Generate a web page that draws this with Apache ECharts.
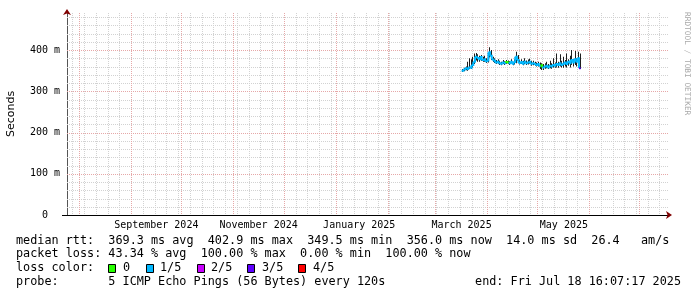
<!DOCTYPE html>
<html><head><meta charset="utf-8">
<script src="https://cdn.jsdelivr.net/npm/echarts@6/dist/echarts.min.js"></script>
<style>html,body{margin:0;padding:0;background:#fff}#c{width:697px;height:297px}</style>
</head><body><div id="c"></div>
<script>
// ---- data (values in ms) ----
const dates = [
 '2025-03-17','2025-03-18','2025-03-19','2025-03-20','2025-03-21','2025-03-22','2025-03-23','2025-03-24','2025-03-25','2025-03-26','2025-03-27','2025-03-28','2025-03-29','2025-03-30','2025-03-31',
 '2025-04-01','2025-04-02','2025-04-03','2025-04-04','2025-04-05','2025-04-06','2025-04-07','2025-04-08','2025-04-09','2025-04-10','2025-04-11','2025-04-12','2025-04-13','2025-04-14','2025-04-15',
 '2025-04-16','2025-04-17','2025-04-18','2025-04-19','2025-04-20','2025-04-21','2025-04-22','2025-04-23','2025-04-24','2025-04-25','2025-04-26','2025-04-27','2025-04-28','2025-04-29','2025-04-30',
 '2025-05-01','2025-05-02','2025-05-03','2025-05-04','2025-05-05','2025-05-06','2025-05-07','2025-05-08','2025-05-09','2025-05-10','2025-05-11','2025-05-12','2025-05-13','2025-05-14','2025-05-15',
 '2025-05-16','2025-05-17','2025-05-18','2025-05-19','2025-05-20','2025-05-21','2025-05-22','2025-05-23','2025-05-24','2025-05-25','2025-05-26'];
const median = [350,353,356,354,358,357,364,372,384,381,378,383,376,378,
 373,375,395,386,377,374,370,372,368,367,370,368,371,370,368,
 372,367,371,384,376,369,371,367,372,368,370,372,367,368,366,
 364,366,362,363,358,360,362,358,362,360,364,362,366,364,368,
 364,366,370,366,372,368,376,370,378,372,380,356];
const smokeLo = [347,349,351,350,355,354,358,366,375,372,372,374,372,372,
 369,370,382,376,371,369,366,367,364,363,366,364,367,366,364,
 368,363,365,368,368,365,366,363,366,364,365,367,362,363,362,
 360,360,354,352,352,355,356,354,356,355,358,357,358,357,360,
 358,357,360,358,362,358,364,360,364,360,364,354];
const smokeHi = [354,357,360,372,380,378,384,392,393,390,386,388,384,386,
 380,382,407,400,384,380,376,378,374,372,376,373,376,375,373,
 378,372,378,396,388,376,378,374,380,375,377,379,374,374,372,
 370,372,370,368,366,368,372,366,374,368,380,370,392,372,390,
 374,384,376,392,378,386,400,378,398,380,396,392];
const loss = [1,1,1,1,1,1,1,1,1,1,1,1,1,1,
 1,1,1,1,1,1,1,1,1,1,1,1,0,0,1,
 1,1,1,1,1,1,1,1,1,1,1,1,1,1,1,
 1,1,1,0,1,1,1,1,1,1,1,1,1,1,1,
 1,1,1,1,1,1,1,1,1,1,1,3];
const lossLabels = ['0','1/5','2/5','3/5','4/5'];
const lossColors = ['#26ff00','#00b8ff','#c800ff','#5e00ff','#ff0000'];
const yTicks = [0,100,200,300,400];
const yTickLabels = ['0  ','100 m','200 m','300 m','400 m'];
const xLabelDates = ['2024-09-16','2024-11-16','2025-01-15','2025-03-17','2025-05-17'];
const xTickLabels = ['September 2024','November 2024','January 2025','March 2025','May 2025'];
const endTime = '2025-07-18T16:07:17Z';
const statsRtt  = 'median rtt:  369.3 ms avg  402.9 ms max  349.5 ms min  356.0 ms now  14.0 ms sd  26.4   am/s';
const statsLoss = 'packet loss: 43.34 % avg  100.00 % max  0.00 % min  100.00 % now';
const lossTitle = 'loss color:';
const probeText = 'probe:       5 ICMP Echo Pings (56 Bytes) every 120s';
const endText   = 'end: Fri Jul 18 16:07:17 2025';
const yName = 'Seconds';
const watermark = 'RRDTOOL / TOBI OETIKER';

// ---- helpers ----
const DAY = 86400000;
const ts = d => Date.parse(d + 'T00:00:00Z');
const xMax = Date.parse(endTime);
const xMin = xMax - 358.9 * DAY;
const yMin = 0, yMax = 490;

// grid line positions (weekly Sundays, month starts)
const weekLines = [];
for (let t = ts('2024-07-28'); t < xMax; t += 7 * DAY) weekLines.push(t);
const monthLines = [];
for (let y = 2024, m = 7; ; ) { const t = Date.UTC(y, m, 1); if (t > xMax) break; if (t >= xMin) monthLines.push(t); m++; if (m > 11) { m = 0; y++; } }
const minorY = [], majorY = [];
for (let v = 20; v < yMax; v += 20) (v % 100 === 0 ? majorY : minorY).push(v);

const mono = 'DejaVu Sans Mono';
const chart = echarts.init(document.getElementById('c'), null, {renderer: 'canvas'});

function vLines(color) {
  return function (params, api) {
    const cs = params.coordSys;
    const x = Math.round(api.coord([api.value(0), 0])[0]) + 0.5;
    return {type: 'line', shape: {x1: x, y1: cs.y, x2: x, y2: cs.y + cs.height},
      style: {stroke: color, fill: null, lineWidth: 1, lineDash: [1, 1]}};
  };
}
function hLines(color) {
  return function (params, api) {
    const cs = params.coordSys;
    const y = Math.round(api.coord([xMin, api.value(1)])[1]) + 0.5;
    return {type: 'line', shape: {x1: cs.x, y1: y, x2: cs.x + cs.width, y2: y},
      style: {stroke: color, fill: null, lineWidth: 1, lineDash: [1, 1]}};
  };
}
const minorColor = '#d2d2d2', majorColor = '#e6a8a8';
const arrowColor = '#800000';

const graphic = [
  {type: 'text', left: 16, top: 235, style: {text: statsRtt, font: '11.8px "' + mono + '"', fill: '#000'}},
  {type: 'text', left: 16, top: 248, style: {text: statsLoss, font: '11.8px "' + mono + '"', fill: '#000'}},
  {type: 'text', left: 16, top: 262, style: {text: lossTitle, font: '11.8px "' + mono + '"', fill: '#000'}},
  {type: 'text', left: 16, top: 276, style: {text: probeText, font: '11.8px "' + mono + '"', fill: '#000'}},
  {type: 'text', right: 16, top: 276, style: {text: endText, font: '11.8px "' + mono + '"', fill: '#000'}},
  {type: 'text', x: 687, y: 12, rotation: -Math.PI / 2,
    style: {text: watermark, font: '7.8px "' + mono + '"', fill: '#a8a8a8', textAlign: 'left', textVerticalAlign: 'middle'}}
];
const boxX = [108, 146, 197, 247, 298];
const labX = [123, 160, 211, 262, 313];
lossLabels.forEach((lab, i) => {
  graphic.push({type: 'rect', shape: {x: boxX[i] + 0.5, y: 264.5, width: 7, height: 8},
    style: {fill: lossColors[i], stroke: '#000', lineWidth: 1}});
  graphic.push({type: 'text', left: labX[i], top: 262, style: {text: lab, font: '11.8px "' + mono + '"', fill: '#000'}});
});

const hidden = {axisTick: {show: false}, axisLabel: {show: false}, splitLine: {show: false}};
const option = {
  animation: false,
  backgroundColor: '#fff',
  grid: {left: 67, right: 28, top: 13, bottom: 82, containLabel: false, outerBoundsMode: 'none'},
  xAxis: [{
    type: 'value', min: xMin, max: xMax, scale: true, position: 'bottom',
    axisLine: {show: true, lineStyle: {color: '#000', width: 1}},
    axisTick: {show: false},
    splitLine: {show: false},
    axisLabel: {
      customValues: xLabelDates.map(ts),
      formatter: (v) => xTickLabels[xLabelDates.map(ts).indexOf(v)] || '',
      fontFamily: mono, fontSize: 10, color: '#000', margin: 5
    }
  }, Object.assign({
    type: 'value', min: xMin, max: xMax, scale: true, position: 'bottom', offset: 0,
    axisLine: {show: true, lineStyle: {color: arrowColor, width: 0.01}, symbol: ['none', 'arrow'], symbolSize: [6, 6], symbolOffset: [0, 3]}
  }, hidden)],
  yAxis: [{
    type: 'value', min: yMin, max: yMax, interval: 100, position: 'left',
    name: yName, nameLocation: 'middle', nameGap: 50,
    nameTextStyle: {fontFamily: 'DejaVu Sans', fontSize: 11, color: '#000'},
    axisLine: {show: true, lineStyle: {color: '#555', width: 1}},
    axisTick: {show: true, customValues: [0], length: 5, lineStyle: {color: '#000'}},
    splitLine: {show: false},
    axisLabel: {
      customValues: yTicks,
      formatter: (v) => yTickLabels[yTicks.indexOf(v)] || '',
      fontFamily: mono, fontSize: 10, color: '#000', margin: 7
    }
  }, Object.assign({
    type: 'value', min: yMin, max: yMax, interval: 100, position: 'left', offset: 0,
    axisLine: {show: true, onZero: false, lineStyle: {color: arrowColor, width: 0.01}, symbol: ['none', 'arrow'], symbolSize: [6, 6], symbolOffset: [0, 4]}
  }, hidden)],
  graphic: graphic,
  series: [
    {type: 'custom', silent: true, z: 1, clip: false, renderItem: vLines(minorColor),
      data: weekLines.filter(t => monthLines.indexOf(t) < 0).map(t => [t, 0]), encode: {x: 0, y: 1}},
    {type: 'custom', silent: true, z: 1, clip: false, renderItem: hLines(minorColor),
      data: minorY.map(v => [xMin, v]), encode: {x: 0, y: 1}},
    {type: 'custom', silent: true, z: 2, clip: false, renderItem: vLines(majorColor),
      data: monthLines.map(t => [t, 0]), encode: {x: 0, y: 1}},
    {type: 'custom', silent: true, z: 2, clip: false, renderItem: hLines(majorColor),
      data: majorY.map(v => [xMin, v]), encode: {x: 0, y: 1}},
    {
      name: 'smoke', type: 'custom', silent: true, z: 3,
      renderItem: function (params, api) {
        const t = api.value(0);
        const lo = api.coord([t, api.value(1)]);
        const hi = api.coord([t, api.value(2)]);
        return {type: 'rect', shape: {x: Math.round(lo[0]), y: hi[1], width: 1, height: lo[1] - hi[1]},
          style: {fill: '#1e1e1e'}};
      },
      data: dates.map((d, i) => [ts(d) + DAY / 2, smokeLo[i], smokeHi[i]]),
      encode: {x: 0, y: [1, 2]}
    },
    {
      name: 'median rtt', type: 'custom', silent: true, z: 4,
      renderItem: function (params, api) {
        const i = params.dataIndex;
        const t = api.value(0), v = api.value(1);
        const a = api.coord([t - DAY / 2, v]), b = api.coord([t + DAY / 2, v]);
        const pts = [a, b];
        if (i + 1 < median.length) pts.push(api.coord([t + DAY / 2, median[i + 1]]));
        return {type: 'polyline', shape: {points: pts},
          style: {stroke: lossColors[api.value(2)], lineWidth: 2, fill: null}};
      },
      data: dates.map((d, i) => [ts(d) + DAY / 2, median[i], loss[i]]),
      encode: {x: 0, y: 1}
    }
  ]
};
chart.setOption(option);
</script></body></html>
